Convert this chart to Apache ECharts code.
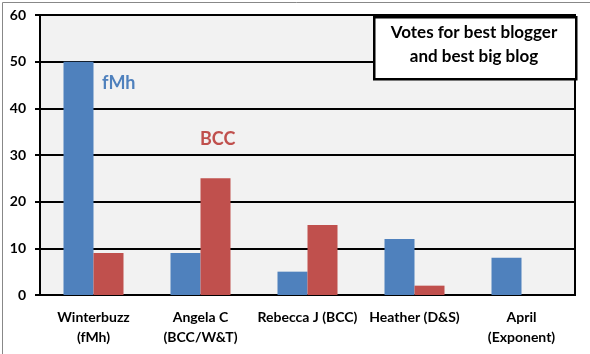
<!DOCTYPE html>
<html>
<head>
<meta charset="utf-8">
<script src="https://cdn.jsdelivr.net/npm/echarts@6/dist/echarts.min.js"></script>
<style>
  html, body { margin: 0; padding: 0; background: #fff; }
  #main { width: 590px; height: 354px; }
</style>
</head>
<body>
<div id="main"></div>
<script>
var chart = echarts.init(document.getElementById('main'));

// data
var bloggers = ['Winterbuzz\n(fMh)', 'Angela C\n(BCC/W&T)', 'Rebecca J (BCC)', 'Heather (D&S)', 'April\n(Exponent)'];
var fmhVotes = [50, 9, 5, 12, 8];
var bccVotes = [9, 25, 15, 2, null];
var yTicks = { min: 0, max: 60, step: 10 };

var font = 'Lato, "Open Sans", sans-serif';

var option = {
    animation: false,
    backgroundColor: '#fff',
    grid: {
        left: 40, right: 15, top: 15, bottom: 59,
        show: true,
        backgroundColor: '#f2f2f2',
        borderColor: '#000',
        borderWidth: 2
    },
    xAxis: {
        type: 'category',
        data: bloggers,
        axisLine: { lineStyle: { color: '#000', width: 2 } },
        axisTick: { show: false },
        axisLabel: {
            color: '#000', fontFamily: font, fontWeight: 'bold',
            fontSize: 14, lineHeight: 20, margin: 12, interval: 0
        }
    },
    yAxis: {
        type: 'value',
        min: yTicks.min, max: yTicks.max, interval: yTicks.step,
        axisLine: { show: true, lineStyle: { color: '#000', width: 2 } },
        axisTick: { show: true, length: 5, lineStyle: { color: '#000', width: 2 } },
        splitLine: { lineStyle: { color: '#000', width: 2 } },
        axisLabel: {
            color: '#000', fontFamily: font, fontWeight: 'bold',
            fontSize: 14, margin: 14
        }
    },
    series: [
        {
            name: 'fMh', type: 'bar', data: fmhVotes,
            barWidth: 30, barGap: '0%',
            itemStyle: { color: '#4f81bd' }
        },
        {
            name: 'BCC', type: 'bar', data: bccVotes,
            barWidth: 30,
            itemStyle: { color: '#c0504d' }
        }
    ],
    graphic: [
        // outer frame
        {
            type: 'rect', z: 100, left: 0, top: 0,
            shape: { width: 589, height: 353 },
            style: { fill: 'none', stroke: '#888', lineWidth: 1 }
        },
        // title box
        {
            type: 'rect', z: 100, left: 373, top: 16,
            shape: { width: 202, height: 62 },
            style: { fill: '#fff', stroke: '#000', lineWidth: 2.5 }
        },
        {
            type: 'text', z: 101, x: 474, y: 33,
            style: {
                text: 'Votes for best blogger', align: 'center', verticalAlign: 'middle',
                font: 'bold 17px ' + font, fill: '#000'
            }
        },
        {
            type: 'text', z: 101, x: 474, y: 57,
            style: {
                text: 'and best big blog', align: 'center', verticalAlign: 'middle',
                font: 'bold 17px ' + font, fill: '#000'
            }
        },
        {
            type: 'text', z: 101, x: 102, y: 83,
            style: { text: 'fMh', verticalAlign: 'middle', font: 'bold 18px ' + font, fill: '#4f81bd' }
        },
        {
            type: 'text', z: 101, x: 200, y: 139,
            style: { text: 'BCC', verticalAlign: 'middle', font: 'bold 18px ' + font, fill: '#c0504d' }
        }
    ]
};

chart.setOption(option);
</script>
</body>
</html>
